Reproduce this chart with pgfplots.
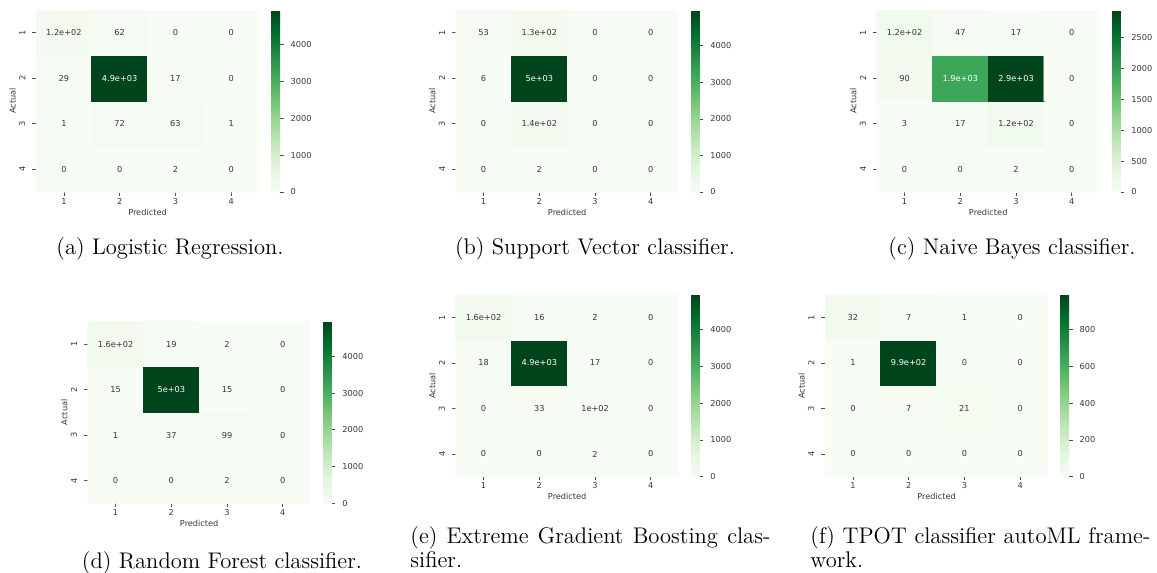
\documentclass[border=0pt]{standalone}
\usepackage{pgfplots}
\pgfplotsset{compat=1.18}
\usepackage{fontspec}
\newfontfamily\djv{DejaVu Sans}
\newcommand\lab{\djv\fontsize{4.1}{5}\selectfont}
\newcommand\capfont{\fontsize{11.3}{13}\selectfont}
\newcommand\W[1]{\textcolor{white}{#1}}
\definecolor{txtgray}{RGB}{55,55,55}
\definecolor{tickgray}{RGB}{80,80,80}
\pgfplotsset{
 colormap={greens}{rgb255=(247,252,245) rgb255=(229,245,224) rgb255=(199,233,192) rgb255=(161,217,155) rgb255=(116,196,118) rgb255=(65,171,93) rgb255=(35,139,69) rgb255=(0,109,44) rgb255=(0,68,27)},
 cmat/.style={
  scale only axis, width=111.5pt, height=91pt,
  xmin=0.5, xmax=4.5, ymin=0.5, ymax=4.5, enlargelimits=false,
  axis line style={draw=none},
  xtick={1,2,3,4}, xticklabels={1,2,3,4},
  ytick={1,2,3,4}, yticklabels={\rotatebox{90}{4},\rotatebox{90}{3},\rotatebox{90}{2},\rotatebox{90}{1}},
  xtick pos=left, ytick pos=left,
  tick align=outside, major tick length=1.8pt,
  every tick/.style={tickgray, line width=0.35pt},
  tick label style={font=\lab, text=txtgray},
  xticklabel style={yshift=2.3pt},
  xlabel={Predicted}, ylabel={Actual},
  label style={font=\lab, text=txtgray},
  xlabel style={at={(axis description cs:0.5,0)}, anchor=center, yshift=-10pt},
  ylabel style={at={(axis description cs:0,0.5)}, anchor=center, yshift=11.75pt},
  colormap name=greens, point meta min=0,
  colorbar,
  colorbar style={at={(parent axis.north east)}, anchor=north west, xshift=-2.3pt, width=4.3pt,
   axis line style={draw=none}, ytick pos=right, yticklabel pos=right,
   tick align=outside, major tick length=1.8pt,
   every tick/.style={tickgray, line width=0.35pt},
   yticklabel style={font=\lab, text=txtgray, anchor=west, /pgf/number format/assume math mode=true, /pgf/number format/1000 sep={}}},
 },
 cells/.style={matrix plot*, mesh/cols=4, point meta=explicit},
 lbls/.style={only marks, mark=*, mark size=0pt, mark options={draw=none,fill=none},
  point meta=explicit symbolic,
  nodes near coords, nodes near coords align=center,
  every node near coord/.append style={font=\lab, text=txtgray, inner sep=0pt}},
}
\begin{document}
\begin{tikzpicture}
% (a)
\begin{axis}[cmat, at={(18pt,-96pt)}, anchor=south west, point meta max=4929,
  colorbar style={ytick={0,1000,2000,3000,4000}}]
\addplot[cells] coordinates {
(1,1) [0] (2,1) [0] (3,1) [2] (4,1) [0]
(1,2) [1] (2,2) [72] (3,2) [63] (4,2) [1]
(1,3) [29] (2,3) [4929] (3,3) [17] (4,3) [0]
(1,4) [120] (2,4) [62] (3,4) [0] (4,4) [0]};
\addplot[lbls] coordinates {
(1,1) [0] (2,1) [0] (3,1) [2] (4,1) [0]
(1,2) [1] (2,2) [72] (3,2) [63] (4,2) [1]
(1,3) [29] (2,3) [\W{4.9e+03}] (3,3) [17] (4,3) [0]
(1,4) [1.2e+02] (2,4) [62] (3,4) [0] (4,4) [0]};
\end{axis}
% (b)
\begin{axis}[cmat, at={(227.85pt,-96pt)}, anchor=south west, point meta max=4976,
  colorbar style={ytick={0,1000,2000,3000,4000}}]
\addplot[cells] coordinates {
(1,1) [0] (2,1) [2] (3,1) [0] (4,1) [0]
(1,2) [0] (2,2) [140] (3,2) [0] (4,2) [0]
(1,3) [6] (2,3) [4976] (3,3) [0] (4,3) [0]
(1,4) [53] (2,4) [130] (3,4) [0] (4,4) [0]};
\addplot[lbls] coordinates {
(1,1) [0] (2,1) [2] (3,1) [0] (4,1) [0]
(1,2) [0] (2,2) [1.4e+02] (3,2) [0] (4,2) [0]
(1,3) [6] (2,3) [\W{5e+03}] (3,3) [0] (4,3) [0]
(1,4) [53] (2,4) [1.3e+02] (3,4) [0] (4,4) [0]};
\end{axis}
% (c)
\begin{axis}[cmat, at={(438.35pt,-96pt)}, anchor=south west, point meta max=2940,
  colorbar style={ytick={0,500,1000,1500,2000,2500}}]
\addplot[cells] coordinates {
(1,1) [0] (2,1) [0] (3,1) [2] (4,1) [0]
(1,2) [3] (2,2) [17] (3,2) [120] (4,2) [0]
(1,3) [90] (2,3) [1900] (3,3) [2940] (4,3) [0]
(1,4) [120] (2,4) [47] (3,4) [17] (4,4) [0]};
\addplot[lbls] coordinates {
(1,1) [0] (2,1) [0] (3,1) [2] (4,1) [0]
(1,2) [3] (2,2) [17] (3,2) [1.2e+02] (4,2) [0]
(1,3) [90] (2,3) [\W{1.9e+03}] (3,3) [\W{2.9e+03}] (4,3) [0]
(1,4) [1.2e+02] (2,4) [47] (3,4) [17] (4,4) [0]};
\end{axis}
% (d)
\begin{axis}[cmat, at={(43.85pt,-251.65pt)}, anchor=south west, point meta max=4955,
  colorbar style={ytick={0,1000,2000,3000,4000}}]
\addplot[cells] coordinates {
(1,1) [0] (2,1) [0] (3,1) [2] (4,1) [0]
(1,2) [1] (2,2) [37] (3,2) [99] (4,2) [0]
(1,3) [15] (2,3) [4955] (3,3) [15] (4,3) [0]
(1,4) [160] (2,4) [19] (3,4) [2] (4,4) [0]};
\addplot[lbls] coordinates {
(1,1) [0] (2,1) [0] (3,1) [2] (4,1) [0]
(1,2) [1] (2,2) [37] (3,2) [99] (4,2) [0]
(1,3) [15] (2,3) [\W{5e+03}] (3,3) [15] (4,3) [0]
(1,4) [1.6e+02] (2,4) [19] (3,4) [2] (4,4) [0]};
\end{axis}
% (e)
\begin{axis}[cmat, at={(227.85pt,-238.35pt)}, anchor=south west, point meta max=4940,
  colorbar style={ytick={0,1000,2000,3000,4000}}]
\addplot[cells] coordinates {
(1,1) [0] (2,1) [0] (3,1) [2] (4,1) [0]
(1,2) [0] (2,2) [33] (3,2) [100] (4,2) [0]
(1,3) [18] (2,3) [4940] (3,3) [17] (4,3) [0]
(1,4) [160] (2,4) [16] (3,4) [2] (4,4) [0]};
\addplot[lbls] coordinates {
(1,1) [0] (2,1) [0] (3,1) [2] (4,1) [0]
(1,2) [0] (2,2) [33] (3,2) [1e+02] (4,2) [0]
(1,3) [18] (2,3) [\W{4.9e+03}] (3,3) [17] (4,3) [0]
(1,4) [1.6e+02] (2,4) [16] (3,4) [2] (4,4) [0]};
\end{axis}
% (f)
\begin{axis}[cmat, at={(412.5pt,-238.35pt)}, anchor=south west, point meta max=990,
  colorbar style={ytick={0,200,400,600,800}}]
\addplot[cells] coordinates {
(1,1) [0] (2,1) [0] (3,1) [0] (4,1) [0]
(1,2) [0] (2,2) [7] (3,2) [21] (4,2) [0]
(1,3) [1] (2,3) [990] (3,3) [0] (4,3) [0]
(1,4) [32] (2,4) [7] (3,4) [1] (4,4) [0]};
\addplot[lbls] coordinates {
(1,1) [0] (2,1) [0] (3,1) [0] (4,1) [0]
(1,2) [0] (2,2) [7] (3,2) [21] (4,2) [0]
(1,3) [1] (2,3) [\W{9.9e+02}] (3,3) [0] (4,3) [0]
(1,4) [32] (2,4) [7] (3,4) [1] (4,4) [0]};
\end{axis}
% captions
\node[anchor=base, font=\capfont, inner sep=0pt] at (85pt,-127pt) {(a) Logistic Regression.};
\node[anchor=base, font=\capfont, inner sep=0pt] at (297.5pt,-127pt) {(b) Support Vector classifier.};
\node[anchor=base, font=\capfont, inner sep=0pt] at (506pt,-127pt) {(c) Naive Bayes classifier.};
\node[anchor=base, font=\capfont, inner sep=0pt] at (111pt,-284pt) {(d) Random Forest classifier.};
\node[anchor=base west, font=\capfont, inner sep=0pt] at (205pt,-271.5pt) {\makebox[180pt][s]{(e) Extreme Gradient Boosting clas-}};
\node[anchor=base west, font=\capfont, inner sep=0pt] at (205pt,-283.5pt) {sifier.};
\node[anchor=base west, font=\capfont, inner sep=0pt] at (405pt,-271.5pt) {\makebox[170pt][s]{(f) TPOT classifier autoML frame-}};
\node[anchor=base west, font=\capfont, inner sep=0pt] at (405pt,-283.5pt) {work.};
\pgfresetboundingbox
\path (0,0) rectangle (578.5pt,-286.5pt);
\end{tikzpicture}
\end{document}
